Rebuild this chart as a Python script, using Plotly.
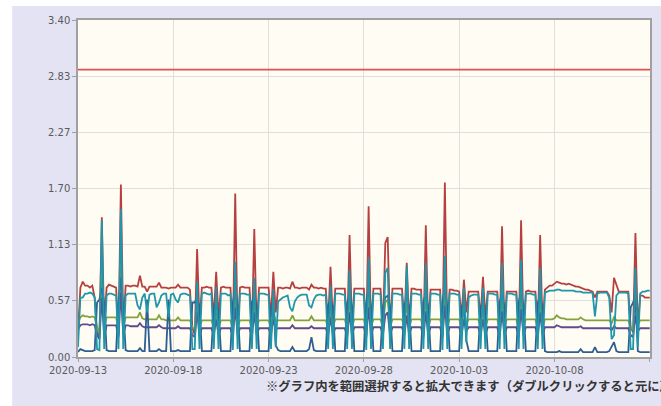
import pandas as pd
import plotly.graph_objects as go

# ---------------- data (3-hour samples, 2020-09-13 00:00 .. 2020-10-13 00:00) ----------------
start = "2020-09-13 00:00"
y_ticks = [0.0, 0.5667, 1.1333, 1.70, 2.2667, 2.8333, 3.40]
y_tick_text = ["0.00", "0.57", "1.13", "1.70", "2.27", "2.83", "3.40"]
limit_value = 2.90

red = [
    0.25, 0.70, 0.76, 0.72, 0.72, 0.70, 0.72, 0.60,
    0.25, 0.20, 1.41, 0.30, 0.70, 0.73, 0.72, 0.71,
    0.70, 0.22, 1.74, 0.28, 0.72, 0.72, 0.71, 0.72,
    0.72, 0.71, 0.82, 0.71, 0.71, 0.66, 0.71, 0.71,
    0.71, 0.71, 0.75, 0.70, 0.70, 0.70, 0.69, 0.70,
    0.70, 0.70, 0.73, 0.70, 0.70, 0.70, 0.70, 0.68,
    0.30, 0.22, 1.09, 0.35, 0.70, 0.70, 0.71, 0.70,
    0.70, 0.40, 0.86, 0.40, 0.70, 0.71, 0.70, 0.70,
    0.70, 0.20, 1.65, 0.25, 0.70, 0.71, 0.70, 0.70,
    0.70, 0.25, 1.29, 0.30, 0.70, 0.70, 0.70, 0.70,
    0.70, 0.40, 0.86, 0.45, 0.70, 0.70, 0.69, 0.70,
    0.70, 0.69, 0.76, 0.70, 0.70, 0.69, 0.70, 0.70,
    0.70, 0.68, 0.73, 0.70, 0.70, 0.69, 0.70, 0.69,
    0.69, 0.35, 0.91, 0.35, 0.69, 0.69, 0.69, 0.69,
    0.69, 0.25, 1.23, 0.30, 0.69, 0.69, 0.69, 0.69,
    0.69, 0.22, 1.52, 0.25, 0.69, 0.69, 0.69, 0.69,
    0.30, 1.15, 1.21, 0.30, 0.69, 0.69, 0.69, 0.69,
    0.69, 0.35, 0.95, 0.35, 0.69, 0.69, 0.68, 0.68,
    0.68, 0.22, 1.33, 0.28, 0.68, 0.68, 0.68, 0.68,
    0.68, 0.20, 1.76, 0.25, 0.68, 0.68, 0.67, 0.67,
    0.66, 0.40, 0.78, 0.45, 0.66, 0.66, 0.66, 0.66,
    0.66, 0.40, 0.81, 0.40, 0.66, 0.66, 0.66, 0.66,
    0.66, 0.22, 1.32, 0.28, 0.66, 0.66, 0.66, 0.66,
    0.66, 0.22, 1.38, 0.28, 0.66, 0.67, 0.66, 0.66,
    0.66, 0.25, 1.23, 0.30, 0.68, 0.70, 0.72, 0.72,
    0.74, 0.76, 0.75, 0.74, 0.74, 0.73, 0.74, 0.73,
    0.72, 0.71, 0.71, 0.70, 0.69, 0.68, 0.68, 0.67,
    0.66, 0.60, 0.66, 0.66, 0.66, 0.66, 0.66, 0.62,
    0.45, 0.80, 0.72, 0.66, 0.66, 0.66, 0.66, 0.66,
    0.30, 0.25, 1.25, 0.30, 0.62, 0.62, 0.60, 0.60,
    0.60,
]

teal = [
    0.10, 0.60, 0.60, 0.64, 0.64, 0.65, 0.64, 0.60,
    0.08, 0.07, 1.38, 0.08, 0.62, 0.64, 0.64, 0.63,
    0.62, 0.08, 1.49, 0.08, 0.62, 0.64, 0.64, 0.64,
    0.64, 0.52, 0.48, 0.60, 0.64, 0.45, 0.63, 0.64,
    0.64, 0.50, 0.55, 0.62, 0.64, 0.64, 0.40, 0.63,
    0.64, 0.58, 0.55, 0.63, 0.64, 0.64, 0.63, 0.62,
    0.08, 0.08, 0.76, 0.08, 0.64, 0.65, 0.64, 0.63,
    0.64, 0.08, 0.71, 0.08, 0.64, 0.64, 0.64, 0.62,
    0.63, 0.07, 0.96, 0.08, 0.64, 0.64, 0.64, 0.63,
    0.63, 0.08, 0.80, 0.08, 0.64, 0.64, 0.64, 0.63,
    0.63, 0.08, 0.68, 0.10, 0.56, 0.58, 0.60, 0.61,
    0.62, 0.50, 0.46, 0.56, 0.60, 0.62, 0.63, 0.63,
    0.63, 0.52, 0.50, 0.58, 0.62, 0.63, 0.63, 0.62,
    0.63, 0.08, 0.72, 0.08, 0.64, 0.64, 0.64, 0.63,
    0.63, 0.08, 0.88, 0.08, 0.64, 0.64, 0.64, 0.63,
    0.63, 0.07, 1.00, 0.08, 0.64, 0.64, 0.64, 0.63,
    0.08, 0.85, 0.90, 0.08, 0.64, 0.64, 0.64, 0.63,
    0.63, 0.08, 0.92, 0.08, 0.64, 0.64, 0.64, 0.63,
    0.63, 0.08, 0.95, 0.08, 0.64, 0.64, 0.64, 0.63,
    0.63, 0.07, 1.02, 0.08, 0.64, 0.64, 0.64, 0.63,
    0.63, 0.08, 0.70, 0.15, 0.60, 0.62, 0.63, 0.63,
    0.63, 0.08, 0.70, 0.08, 0.64, 0.64, 0.64, 0.63,
    0.63, 0.08, 0.95, 0.08, 0.64, 0.64, 0.64, 0.63,
    0.63, 0.08, 0.98, 0.08, 0.64, 0.64, 0.64, 0.63,
    0.63, 0.08, 0.90, 0.08, 0.65, 0.66, 0.67, 0.67,
    0.67, 0.68, 0.68, 0.67, 0.67, 0.67, 0.67, 0.67,
    0.67, 0.66, 0.66, 0.66, 0.65, 0.65, 0.65, 0.65,
    0.65, 0.41, 0.64, 0.65, 0.65, 0.65, 0.65, 0.60,
    0.18, 0.22, 0.62, 0.65, 0.65, 0.65, 0.65, 0.64,
    0.08, 0.08, 0.90, 0.10, 0.64, 0.66, 0.66, 0.67,
    0.67,
]

blue = [
    0.05, 0.08, 0.07, 0.06, 0.06, 0.06, 0.06, 0.07,
    0.55, 0.58, 0.70, 0.55, 0.07, 0.06, 0.06, 0.06,
    0.06, 0.55, 0.80, 0.50, 0.07, 0.06, 0.06, 0.06,
    0.06, 0.06, 0.09, 0.06, 0.06, 0.58, 0.06, 0.06,
    0.06, 0.06, 0.08, 0.06, 0.06, 0.06, 0.58, 0.06,
    0.06, 0.06, 0.07, 0.06, 0.06, 0.06, 0.06, 0.06,
    0.55, 0.55, 0.60, 0.50, 0.06, 0.06, 0.06, 0.06,
    0.06, 0.50, 0.55, 0.45, 0.06, 0.06, 0.06, 0.06,
    0.06, 0.55, 0.70, 0.50, 0.06, 0.06, 0.06, 0.06,
    0.06, 0.55, 0.62, 0.50, 0.06, 0.06, 0.06, 0.06,
    0.06, 0.50, 0.55, 0.12, 0.07, 0.06, 0.06, 0.06,
    0.06, 0.06, 0.10, 0.06, 0.06, 0.06, 0.06, 0.06,
    0.06, 0.08, 0.20, 0.07, 0.06, 0.06, 0.06, 0.06,
    0.06, 0.52, 0.58, 0.50, 0.06, 0.06, 0.06, 0.06,
    0.06, 0.55, 0.62, 0.50, 0.06, 0.06, 0.06, 0.06,
    0.06, 0.55, 0.70, 0.50, 0.06, 0.06, 0.06, 0.06,
    0.50, 0.60, 0.62, 0.50, 0.06, 0.06, 0.06, 0.06,
    0.06, 0.52, 0.60, 0.50, 0.06, 0.06, 0.06, 0.06,
    0.06, 0.55, 0.65, 0.50, 0.06, 0.06, 0.06, 0.06,
    0.06, 0.55, 0.72, 0.50, 0.06, 0.06, 0.06, 0.06,
    0.06, 0.50, 0.55, 0.17, 0.06, 0.06, 0.06, 0.06,
    0.06, 0.50, 0.55, 0.45, 0.06, 0.06, 0.06, 0.06,
    0.06, 0.55, 0.65, 0.50, 0.06, 0.06, 0.06, 0.06,
    0.06, 0.55, 0.66, 0.50, 0.06, 0.06, 0.06, 0.06,
    0.06, 0.55, 0.62, 0.50, 0.06, 0.05, 0.05, 0.05,
    0.05, 0.05, 0.06, 0.05, 0.05, 0.05, 0.05, 0.05,
    0.05, 0.05, 0.05, 0.08, 0.05, 0.05, 0.05, 0.05,
    0.05, 0.10, 0.05, 0.05, 0.05, 0.05, 0.05, 0.06,
    0.10, 0.15, 0.06, 0.05, 0.05, 0.05, 0.05, 0.05,
    0.50, 0.55, 0.60, 0.06, 0.05, 0.05, 0.05, 0.05,
    0.05,
]

green = [
    0.35, 0.40, 0.42, 0.41, 0.41, 0.40, 0.41, 0.40,
    0.30, 0.25, 0.80, 0.28, 0.40, 0.40, 0.40, 0.40,
    0.40, 0.28, 0.90, 0.30, 0.40, 0.40, 0.40, 0.40,
    0.40, 0.40, 0.45, 0.39, 0.38, 0.38, 0.38, 0.38,
    0.38, 0.38, 0.42, 0.38, 0.38, 0.37, 0.37, 0.37,
    0.37, 0.37, 0.40, 0.37, 0.37, 0.37, 0.37, 0.37,
    0.30, 0.28, 0.55, 0.30, 0.37, 0.37, 0.37, 0.37,
    0.37, 0.30, 0.45, 0.30, 0.37, 0.37, 0.37, 0.37,
    0.37, 0.28, 0.65, 0.30, 0.37, 0.37, 0.37, 0.37,
    0.37, 0.28, 0.58, 0.30, 0.37, 0.37, 0.37, 0.37,
    0.37, 0.30, 0.45, 0.36, 0.37, 0.37, 0.37, 0.37,
    0.37, 0.37, 0.42, 0.37, 0.37, 0.37, 0.37, 0.37,
    0.37, 0.37, 0.41, 0.37, 0.37, 0.37, 0.37, 0.37,
    0.37, 0.30, 0.48, 0.30, 0.38, 0.38, 0.38, 0.38,
    0.38, 0.28, 0.58, 0.30, 0.38, 0.38, 0.38, 0.38,
    0.38, 0.28, 0.65, 0.30, 0.38, 0.38, 0.38, 0.38,
    0.30, 0.55, 0.58, 0.30, 0.38, 0.38, 0.38, 0.38,
    0.38, 0.30, 0.55, 0.30, 0.38, 0.38, 0.38, 0.38,
    0.38, 0.28, 0.60, 0.30, 0.38, 0.38, 0.38, 0.38,
    0.38, 0.28, 0.66, 0.30, 0.38, 0.38, 0.38, 0.38,
    0.38, 0.30, 0.48, 0.34, 0.38, 0.38, 0.38, 0.38,
    0.38, 0.30, 0.48, 0.30, 0.38, 0.38, 0.38, 0.38,
    0.38, 0.28, 0.60, 0.30, 0.38, 0.38, 0.38, 0.38,
    0.38, 0.28, 0.62, 0.30, 0.38, 0.38, 0.38, 0.38,
    0.38, 0.28, 0.58, 0.30, 0.38, 0.38, 0.38, 0.38,
    0.39, 0.42, 0.40, 0.39, 0.39, 0.38, 0.38, 0.38,
    0.38, 0.38, 0.38, 0.40, 0.38, 0.37, 0.37, 0.37,
    0.37, 0.37, 0.37, 0.37, 0.37, 0.37, 0.37, 0.37,
    0.34, 0.40, 0.37, 0.37, 0.37, 0.37, 0.37, 0.37,
    0.30, 0.28, 0.55, 0.33, 0.37, 0.37, 0.37, 0.37,
    0.37,
]

purple = [
    0.28, 0.32, 0.33, 0.33, 0.33, 0.32, 0.33, 0.32,
    0.22, 0.18, 0.60, 0.20, 0.32, 0.32, 0.32, 0.32,
    0.32, 0.20, 0.65, 0.22, 0.32, 0.32, 0.31, 0.31,
    0.31, 0.31, 0.34, 0.31, 0.30, 0.30, 0.30, 0.30,
    0.30, 0.30, 0.32, 0.30, 0.29, 0.29, 0.29, 0.29,
    0.29, 0.29, 0.31, 0.29, 0.29, 0.29, 0.29, 0.29,
    0.22, 0.20, 0.45, 0.22, 0.29, 0.29, 0.29, 0.29,
    0.29, 0.22, 0.38, 0.22, 0.29, 0.29, 0.29, 0.29,
    0.29, 0.20, 0.50, 0.22, 0.29, 0.29, 0.29, 0.29,
    0.29, 0.20, 0.45, 0.22, 0.29, 0.29, 0.29, 0.29,
    0.29, 0.22, 0.38, 0.28, 0.29, 0.29, 0.29, 0.29,
    0.29, 0.29, 0.32, 0.29, 0.29, 0.29, 0.29, 0.29,
    0.29, 0.29, 0.31, 0.29, 0.29, 0.29, 0.29, 0.29,
    0.29, 0.22, 0.40, 0.22, 0.29, 0.29, 0.29, 0.29,
    0.29, 0.20, 0.45, 0.22, 0.30, 0.30, 0.30, 0.30,
    0.30, 0.20, 0.50, 0.22, 0.30, 0.30, 0.30, 0.30,
    0.22, 0.42, 0.45, 0.22, 0.30, 0.30, 0.30, 0.30,
    0.30, 0.22, 0.42, 0.22, 0.30, 0.30, 0.30, 0.30,
    0.30, 0.20, 0.46, 0.22, 0.30, 0.30, 0.30, 0.30,
    0.30, 0.20, 0.52, 0.22, 0.30, 0.30, 0.30, 0.30,
    0.30, 0.22, 0.38, 0.26, 0.30, 0.30, 0.30, 0.30,
    0.30, 0.22, 0.38, 0.22, 0.30, 0.30, 0.30, 0.30,
    0.30, 0.20, 0.46, 0.22, 0.30, 0.30, 0.30, 0.30,
    0.30, 0.20, 0.48, 0.22, 0.30, 0.30, 0.30, 0.30,
    0.30, 0.20, 0.45, 0.22, 0.30, 0.30, 0.30, 0.30,
    0.30, 0.32, 0.31, 0.30, 0.30, 0.30, 0.30, 0.30,
    0.30, 0.30, 0.30, 0.31, 0.29, 0.29, 0.29, 0.29,
    0.29, 0.29, 0.29, 0.29, 0.29, 0.29, 0.29, 0.29,
    0.27, 0.31, 0.29, 0.29, 0.29, 0.29, 0.29, 0.29,
    0.22, 0.20, 0.42, 0.26, 0.29, 0.29, 0.29, 0.29,
    0.29,
]

note_text = "※グラフ内を範囲選択すると拡大できます（ダブルクリックすると元に戻ります）"

# ---------------- figure ----------------
times = pd.date_range(start, periods=len(red), freq="3h")
x_start = times[0]
x_end = pd.Timestamp("2020-10-13 00:20")

series = [
    ("red", red, "#b5403f"),
    ("green", green, "#84a23c"),
    ("purple", purple, "#604a8c"),
    ("blue", blue, "#2f5f92"),
    ("teal", teal, "#1f96aa"),
]

fig = go.Figure()
for name, vals, col in series:
    fig.add_trace(go.Scatter(x=times, y=vals, mode="lines", name=name,
                             line=dict(color=col, width=1.8), hoverinfo="skip"))

fig.add_trace(go.Scatter(x=[x_start, x_end], y=[limit_value, limit_value], mode="lines",
                         line=dict(color="#e0504f", width=1.8), hoverinfo="skip"))

# page-like background (lavender frame and ivory plot area)
fig.add_shape(type="rect", xref="paper", yref="paper", x0=-0.115, x1=1.02, y0=-0.16, y1=1.0415,
              fillcolor="#e3e3f3", line=dict(width=0), layer="below")
fig.add_shape(type="rect", xref="paper", yref="paper", x0=0, x1=1, y0=0, y1=1,
              fillcolor="#fffcf4", line=dict(width=0), layer="below")

fig.add_annotation(xref="paper", yref="paper", x=0.3258, y=-0.086, xanchor="left", yanchor="middle",
                   text="<b>" + note_text + "</b>", showarrow=False,
                   font=dict(family="Noto Sans CJK JP", size=12.3, color="#333333"))

axis_font = dict(family="DejaVu Sans", size=10, color="#5a5a5a")
fig.update_layout(
    width=661, height=406,
    margin=dict(l=78, r=9, t=20, b=49),
    paper_bgcolor="#ffffff", plot_bgcolor="#fffcf4",
    showlegend=False,
    xaxis=dict(type="date", range=[x_start, x_end], tick0="2020-09-13", dtick=5 * 86400000,
               tickformat="%Y-%m-%d", tickfont=axis_font, showgrid=True, gridcolor="#e2dfd8",
               gridwidth=1, showline=True, linecolor="#a0a0a0", linewidth=1.5, mirror=True,
               ticks="outside", ticklen=3, tickcolor="#a0a0a0", zeroline=False),
    yaxis=dict(range=[0, 3.4], tickvals=y_ticks, ticktext=y_tick_text, tickfont=axis_font,
               showgrid=True, gridcolor="#e2dfd8", gridwidth=1, showline=True,
               linecolor="#a0a0a0", linewidth=1.5, mirror=True, ticks="outside", ticklen=4,
               tickcolor="#a0a0a0", zeroline=False),
)

fig.write_html("out.html", config={"displayModeBar": False},
               post_script="document.body.style.margin='0px';")
